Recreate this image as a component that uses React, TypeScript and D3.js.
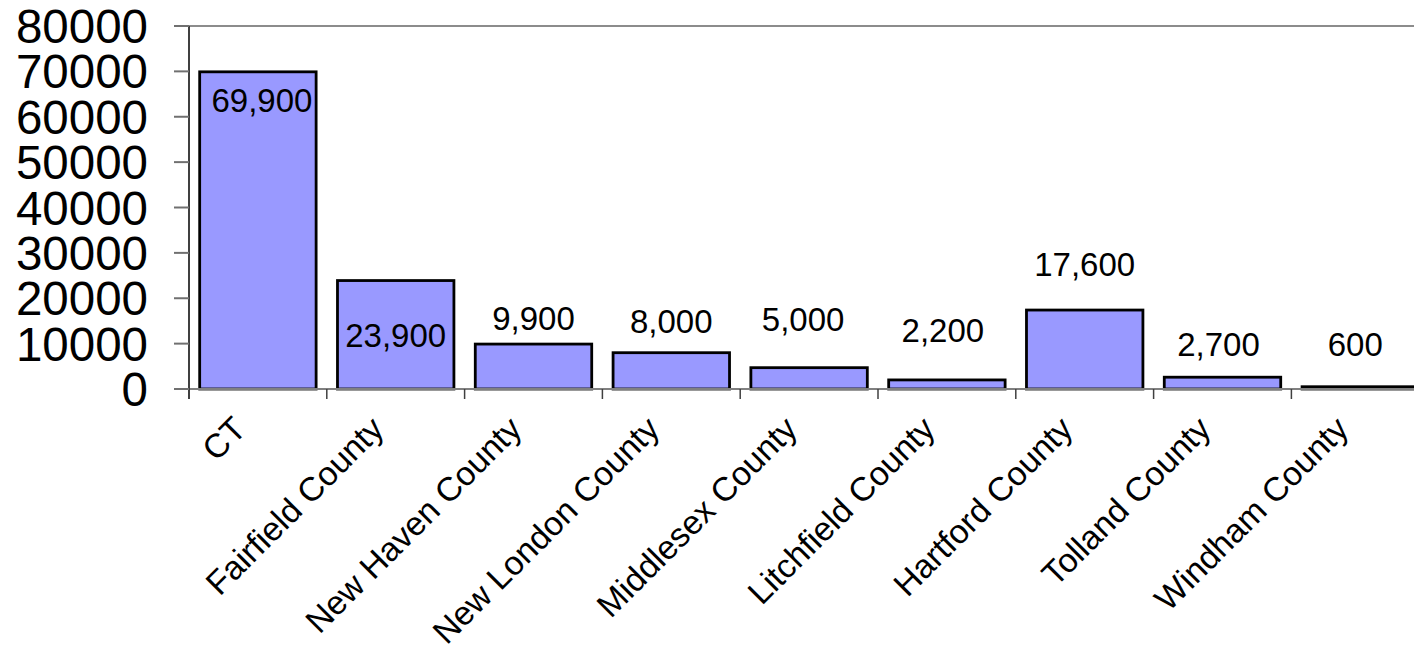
import React from "react";
import * as d3 from "d3";

const categories = [
  "CT",
  "Fairfield County",
  "New Haven County",
  "New London County",
  "Middlesex County",
  "Litchfield County",
  "Hartford County",
  "Tolland County",
  "Windham County",
];
// bar heights
const values = [69900, 23900, 9900, 8000, 4700, 2000, 17400, 2600, 500];
// data-label texts as printed on the chart
const dataLabels = ["69,900", "23,900", "9,900", "8,000", "5,000", "2,200", "17,600", "2,700", "600"];
const yTicks = [0, 10000, 20000, 30000, 40000, 50000, 60000, 70000, 80000];

// label placement (px offsets of label baseline from bar top, and x shift)
const labelDy = [40, 66, -14, -20, -37, -38, -34, -21, -31];
const labelDx = [4, 0, 0, 0, -6, -4, 0, -4, -5];

const W = 1414;
const H = 647;
const left = 189;
const bandStep = 137.8;
const top = 26;
const bottom = 389;
const FONT = "'Liberation Sans', Arial, sans-serif";

export default function App() {
  const x = d3
    .scaleBand<string>()
    .domain(categories)
    .range([left, left + bandStep * categories.length])
    .paddingInner(0.155)
    .paddingOuter(0.0775);
  const y = d3.scaleLinear().domain([0, 80000]).range([bottom, top]);
  const step = x.step();
  const rangeStart = x.range()[0];

  return (
    <svg
      width={W}
      height={H}
      style={{ position: "absolute", left: 0, top: 0, background: "#fff" }}
      fontFamily={FONT}
    >
      {/* top border */}
      <line x1={left} x2={W} y1={y(80000)} y2={y(80000)} stroke="#8c8c8c" strokeWidth={2} />
      {/* bars */}
      {values.map((v, i) => (
        <rect
          key={categories[i]}
          x={x(categories[i])!}
          y={y(v)}
          width={x.bandwidth()}
          height={y(0) - y(v)}
          fill="#9999FF"
          stroke="#000"
          strokeWidth={2.8}
        />
      ))}
      {/* x axis line */}
      <line x1={left} x2={W} y1={y(0)} y2={y(0)} stroke="#808080" strokeWidth={2} />
      {/* x ticks at band boundaries */}
      {d3.range(categories.length + 1).map((i) => (
        <line
          key={"xt" + i}
          x1={rangeStart + i * step}
          x2={rangeStart + i * step}
          y1={y(0)}
          y2={y(0) + 10}
          stroke="#404040"
          strokeWidth={1.5}
        />
      ))}
      {/* y axis */}
      <line x1={left} x2={left} y1={y(80000)} y2={y(0) + 10} stroke="#404040" strokeWidth={2} />
      {yTicks.map((t) => (
        <g key={"yt" + t}>
          <line x1={left - 15} x2={left} y1={y(t)} y2={y(t)} stroke="#707070" strokeWidth={2} />
          <text
            x={148}
            y={y(t)}
            dy="0.36em"
            textAnchor="end"
            fontSize={47.5}
            fill="#000"
          >
            {t}
          </text>
        </g>
      ))}
      {/* data labels */}
      {values.map((v, i) => (
        <text
          key={"dl" + i}
          x={x(categories[i])! + x.bandwidth() / 2 + labelDx[i]}
          y={y(v) + labelDy[i]}
          textAnchor="middle"
          fontSize={33}
          fill="#000"
        >
          {dataLabels[i]}
        </text>
      ))}
      {/* category labels */}
      {categories.map((c) => {
        const cx = x(c)! + x.bandwidth() / 2 - 10;
        const cy = y(0) + 42;
        return (
          <text
            key={"cl" + c}
            transform={`translate(${cx},${cy}) rotate(-45)`}
            textAnchor="end"
            fontSize={33.5}
            fill="#000"
          >
            {c}
          </text>
        );
      })}
    </svg>
  );
}
